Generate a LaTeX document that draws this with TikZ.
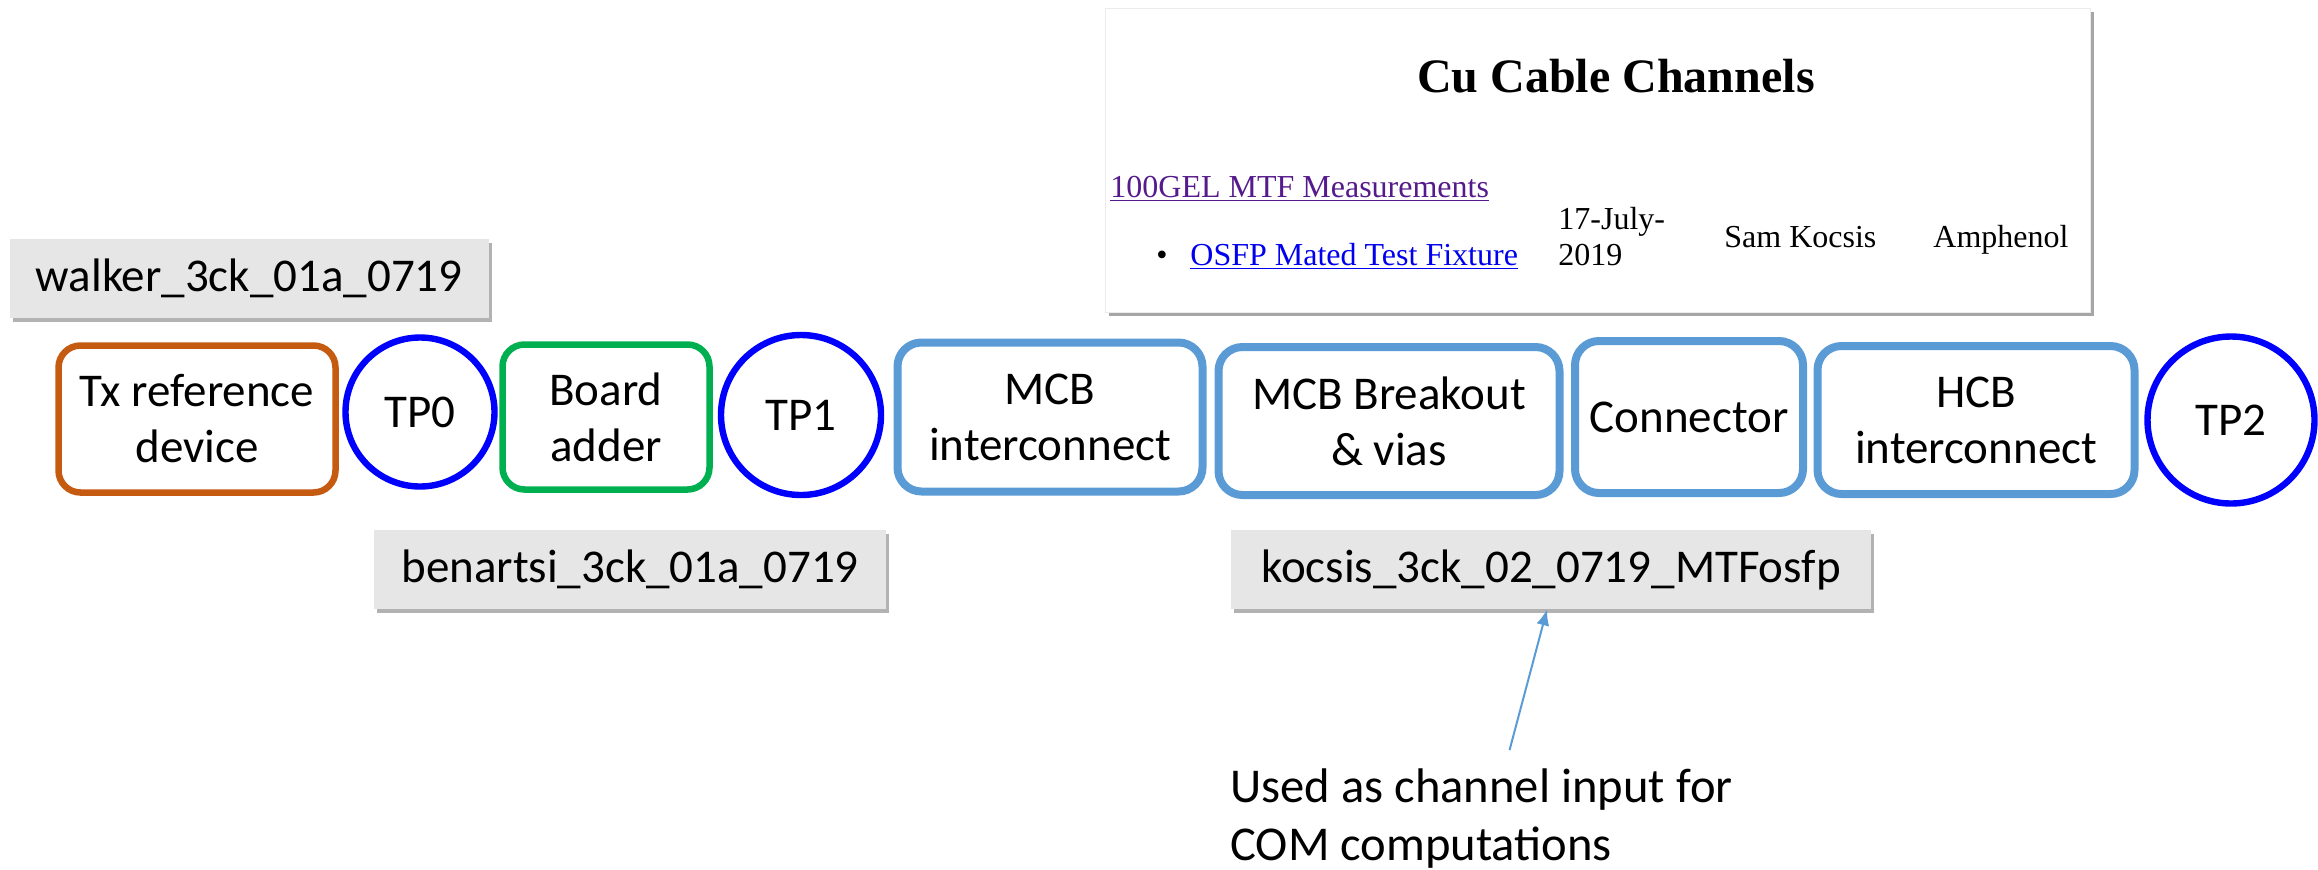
\documentclass[tikz,border=0pt]{standalone}
\usepackage{fontspec}
\setmainfont{Carlito}
\newfontfamily\webfont{Liberation Serif}
\usetikzlibrary{shadows,arrows.meta}
\definecolor{txorange}{HTML}{C55A11}
\definecolor{tpblue}{HTML}{0000FF}
\definecolor{addgreen}{HTML}{00B050}
\definecolor{chanblue}{HTML}{5B9BD5}
\definecolor{taggray}{HTML}{E6E6E6}
\definecolor{linkblue}{HTML}{0000EE}
\definecolor{visited}{HTML}{551A8B}
\tikzset{
    block/.style={draw, fill=white, rounded corners=11pt, align=center, inner sep=0pt,
        font=\fontsize{23.5}{28}\selectfont},
    chan/.style={block, draw=chanblue, line width=4pt, rounded corners=12pt},
    tp/.style={circle, draw=tpblue, fill=white, line width=3.2pt, inner sep=0pt,
        font=\fontsize{23.5}{28}\selectfont},
    tag/.style={fill=taggray, inner sep=0pt, minimum height=39.5pt,
        font=\fontsize{23.5}{28}\selectfont,
        drop shadow={shadow xshift=1.5pt, shadow yshift=-2pt, fill=black, opacity=.3}},
    web/.style={anchor=base west, inner sep=0pt, font=\webfont\fontsize{16}{18}\selectfont},
    pointer/.style={draw=chanblue, line width=1pt, -{Latex[length=8pt,width=6.5pt]}}
}
\begin{document}
\begin{tikzpicture}[x=0.5pt,y=-0.5pt]
    \useasboundingbox (0,0) rectangle (2318,869);
    % Web page snapshot
    \path[fill=white, draw=black!8,
        drop shadow={shadow xshift=2pt, shadow yshift=-2pt, fill=black, opacity=.35}]
        (1105,8) rectangle (2090,312);
    \node[anchor=base, inner sep=0pt, font=\webfont\bfseries\fontsize{24}{28}\selectfont]
        (title) at (1616,92) {Cu Cable Channels};
    \node[web, text=visited] (mtf) at (1110,197) {\underline{100GEL MTF Measurements}};
    \node[web] (bullet) at (1156,265) {\textbullet};
    \node[web, text=linkblue] (osfp) at (1190,265) {\underline{OSFP Mated Test Fixture}};
    \node[web] (date) at (1558,229) {17-July-};
    \node[web] (year) at (1558,265) {2019};
    \node[web] (author) at (1724,247) {Sam Kocsis};
    \node[web] (company) at (1933,247) {Amphenol};
    % Reference chain
    \node[block, draw=txorange, line width=3.25pt, minimum width=138.5pt, minimum height=73.5pt]
        (tx) at (197,419) {Tx reference\\device};
    \node[block, draw=addgreen, line width=3.25pt, minimum width=103.5pt, minimum height=72.5pt]
        (board) at (606,417) {Board\\adder};
    \foreach \n/\x/\y/\d in {0/420/412/74.5,1/801/415/80,2/2231/420/83.5}
        \node[tp, minimum size=\d pt] (tp\n) at (\x,\y) {TP\n};
    % Channel blocks
    \foreach \name/\x/\y/\w/\h/\txt in {mcb/1050/417/152.5/74.5/{MCB\\interconnect},
            brk/1389/421/170.5/74/{MCB Breakout\\\& vias},
            con/1689/417/114/76/{Connector},
            hcb/1976/420/158.5/74/{HCB\\interconnect}}
        \node[chan, minimum width=\w pt, minimum height=\h pt] (\name) at (\x,\y) {\txt};
    % File tags
    \node[tag, minimum width=239.5pt] (walker) at (249,278) {walker\_3ck\_01a\_0719};
    \node[tag, minimum width=256pt] (benartsi) at (630,569.5) {benartsi\_3ck\_01a\_0719};
    \node[tag, minimum width=320pt] (kocsis) at (1551,569.5) {kocsis\_3ck\_02\_0719\_MTFosfp};
    % Note
    \node[anchor=north west, align=left, inner sep=0pt, font=\fontsize{24.3}{29}\selectfont]
        (note) at (1230,768) {Used as channel input for\\COM computations};
    \draw[pointer] ([xshift=14pt,yshift=9pt]note.north) -- ([xshift=-2pt]kocsis.south);
\end{tikzpicture}
\end{document}
